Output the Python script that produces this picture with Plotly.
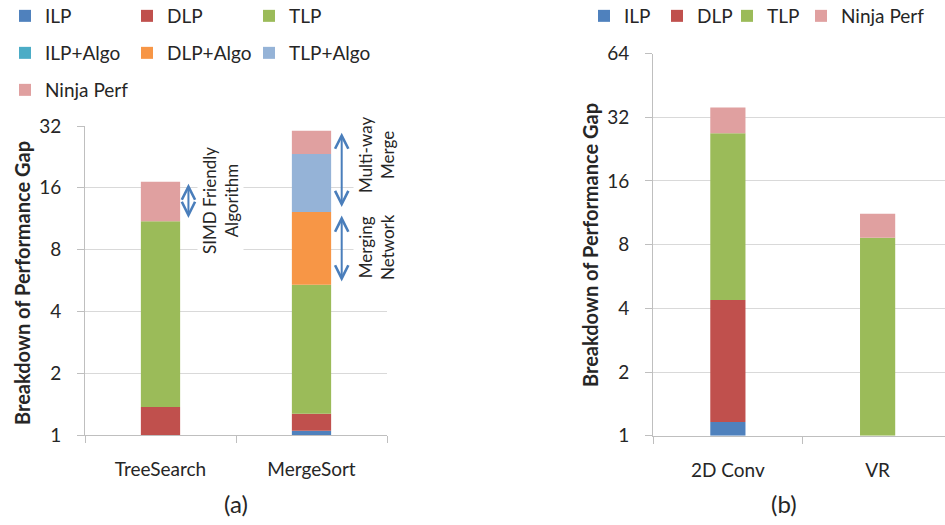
import math
import plotly.graph_objects as go

# ---------------- data ----------------
categories_a = ["TreeSearch", "MergeSort"]
series_names_a = ["ILP", "DLP", "TLP", "ILP+Algo", "DLP+Algo", "TLP+Algo", "Ninja Perf"]
ilp_a = [1.0, 1.05]
dlp_a = [1.37, 1.27]
tlp_a = [11.0, 5.4]
ilp_algo_a = [11.0, 5.4]
dlp_algo_a = [11.0, 12.2]
tlp_algo_a = [11.0, 23.4]
ninja_a = [17.1, 30.3]

categories_b = ["2D Conv", "VR"]
series_names_b = ["ILP", "DLP", "TLP", "Ninja Perf"]
ilp_b = [1.16, 1.0]
dlp_b = [4.38, 1.0]
tlp_b = [26.9, 8.63]
ninja_b = [35.6, 11.2]

ticks_a = [1, 2, 4, 8, 16, 32]
ticks_b = [1, 2, 4, 8, 16, 32, 64]

colors = {
    "ILP": "#4f81bd", "DLP": "#c0504d", "TLP": "#9bbb59",
    "ILP+Algo": "#4bacc6", "DLP+Algo": "#f79646", "TLP+Algo": "#95b3d7",
    "Ninja Perf": "#e0a0a0",
}

W, H = 945, 525
px = lambda v: v / W
py = lambda v: 1 - v / H

FONT = "Lato"
TXT = "#262626"
fig = go.Figure()

# legend entry positions (symbol centre x, row centre y) in pixels
legend_pos_a = [(24, 16), (146, 16), (268, 16),
                (24, 53), (146, 53), (268, 53),
                (24, 90)]
legend_pos_b = [(603, 16), (676, 16), (746, 16), (820, 16)]

levels_a = [ilp_a, dlp_a, tlp_a, ilp_algo_a, dlp_algo_a, tlp_algo_a, ninja_a]
prev = [1.0] * len(categories_a)
k = 1
for name, lev in zip(series_names_a, levels_a):
    fig.add_trace(go.Bar(
        x=categories_a, y=[c - p for c, p in zip(lev, prev)], base=prev,
        name=name, marker=dict(color=colors[name], line=dict(width=0)),
        width=0.26, xaxis="x", yaxis="y", legend="legend" if k == 1 else f"legend{k}",
    ))
    prev = lev
    k += 1

levels_b = [ilp_b, dlp_b, tlp_b, ninja_b]
prev = [1.0] * len(categories_b)
for name, lev in zip(series_names_b, levels_b):
    fig.add_trace(go.Bar(
        x=categories_b, y=[c - p for c, p in zip(lev, prev)], base=prev,
        name=name, marker=dict(color=colors[name], line=dict(width=0)),
        width=0.235, xaxis="x2", yaxis="y2", legend=f"legend{k}",
    ))
    prev = lev
    k += 1

axis_line = "#bfbfbf"
grid = "#d9d9d9"
common_x = dict(type="category", showline=True, linecolor=axis_line, linewidth=1,
                ticks="outside", tickson="boundaries", ticklen=7, tickcolor=axis_line,
                showgrid=False, tickfont=dict(family=FONT, size=19, color=TXT),
                ticklabelstandoff=17)
common_y = dict(type="log", showline=True, linecolor=axis_line, linewidth=1,
                gridcolor=grid, gridwidth=1, zeroline=False, ticks="outside",
                ticklen=7, tickcolor=axis_line,
                tickfont=dict(family=FONT, size=19, color=TXT), ticklabelstandoff=12)

fig.update_layout(
    width=W, height=H, margin=dict(l=0, r=0, t=0, b=0, autoexpand=False),
    paper_bgcolor="white", plot_bgcolor="white", barmode="overlay",
    font=dict(family=FONT, color=TXT),
    xaxis=dict(domain=[px(85), px(387)], range=[-0.5, 1.5], anchor="y", **common_x),
    yaxis=dict(domain=[py(435), py(126)], range=[0, math.log10(32)], anchor="x",
               tickvals=ticks_a, ticktext=[str(t) for t in ticks_a], **common_y),
    xaxis2=dict(domain=[px(653), 1.0], range=[-0.5, 1.45], anchor="y2", **common_x),
    yaxis2=dict(domain=[py(435.7), py(53.6)], range=[0, math.log10(64)], anchor="x2",
                tickvals=ticks_b, ticktext=[str(t) for t in ticks_b], **common_y),
    showlegend=True,
)

leg = dict(orientation="h", xanchor="left", yanchor="middle", bgcolor="rgba(0,0,0,0)",
           font=dict(family=FONT, size=19, color=TXT), itemclick=False)
SYM_OFF = 19
for i, (cx, cy) in enumerate(legend_pos_a + legend_pos_b, start=1):
    key = "legend" if i == 1 else f"legend{i}"
    fig.update_layout({key: dict(x=max(px(cx - SYM_OFF), 0), y=py(cy), **leg)})

ann = dict(xref="paper", yref="paper", xanchor="center", yanchor="middle", showarrow=False)
# axis titles
for xx, yy in [(22, 283), (590, 245)]:
    fig.add_annotation(x=px(xx), y=py(yy), text="<b>Breakdown of Performance Gap</b>",
                       textangle=-90, font=dict(family=FONT, size=20, color=TXT), **ann)

# panel labels
fig.add_annotation(x=px(236), y=py(503), text="(a)", font=dict(family=FONT, size=24, color=TXT), **ann)
fig.add_annotation(x=px(784), y=py(503), text="(b)", font=dict(family=FONT, size=24, color=TXT), **ann)

# explanation text boxes
txt = dict(textangle=-90, bgcolor="white", font=dict(family=FONT, size=17, color=TXT), **ann)
fig.add_annotation(x=px(221), y=py(201), text="SIMD Friendly<br>Algorithm", **txt)
fig.add_annotation(x=px(376), y=py(155), text="Multi-way<br>Merge", **txt)
fig.add_annotation(x=px(376), y=py(247), text="Merging<br>Network", **txt)

# double-headed arrows spanning the algorithmic gains
arrow_col = "#4a7ebb"
L = math.log10
def darrow(xv, y0, y1):
    fig.add_annotation(x=xv, y=L(y1), ax=xv, ay=L(y0), xref="x", yref="y",
                       axref="x", ayref="y", text="", showarrow=True,
                       arrowhead=5, startarrowhead=5, arrowside="end+start",
                       arrowsize=1.3, arrowwidth=2, arrowcolor=arrow_col)

darrow(0.185, tlp_a[0] * 1.02, ninja_a[0] * 0.98)
darrow(1.2, dlp_algo_a[1] * 1.04, ninja_a[1] * 0.98)
darrow(1.2, tlp_a[1] * 1.02, dlp_algo_a[1] * 0.96)

fig.write_html("out.html", config={"displayModeBar": False},
               post_script="document.body.style.margin='0';")
